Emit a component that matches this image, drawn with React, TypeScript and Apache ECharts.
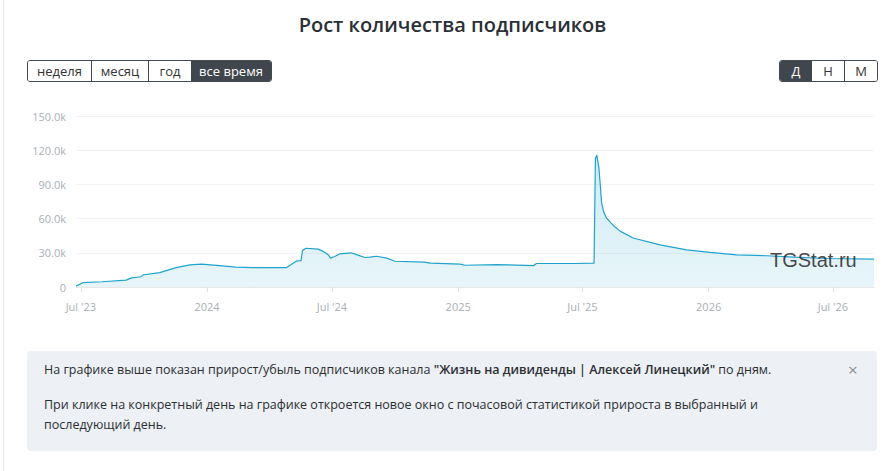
import React, { useEffect, useRef } from "react";
import * as echarts from "echarts";

const dates = [
  "2023-06-24", "2023-07-04", "2023-08-01", "2023-09-05", "2023-09-13", "2023-09-27", "2023-09-29",
  "2023-10-24", "2023-11-17", "2023-12-07", "2023-12-24", "2024-01-19", "2024-02-12", "2024-03-07",
  "2024-04-26", "2024-05-11", "2024-05-17", "2024-05-19", "2024-05-24", "2024-06-11", "2024-06-19",
  "2024-06-26", "2024-06-29", "2024-07-05", "2024-07-12", "2024-07-29", "2024-08-08", "2024-08-18",
  "2024-08-25", "2024-09-04", "2024-09-19", "2024-10-01", "2024-11-12", "2024-11-22", "2025-01-04",
  "2025-01-11", "2025-02-26", "2025-04-21", "2025-04-25", "2025-06-18", "2025-07-18", "2025-07-20",
  "2025-07-22", "2025-07-25", "2025-07-27", "2025-07-29", "2025-08-01", "2025-08-05", "2025-08-15",
  "2025-08-25", "2025-09-13", "2025-10-22", "2025-11-30", "2026-01-03", "2026-02-11", "2026-03-27",
  "2026-05-05", "2026-06-23", "2026-08-30",
];
const subscribers = [
  800, 3800, 4600, 6000, 8000, 9000, 10500,
  12600, 17000, 19400, 20000, 18800, 17400, 17000,
  17000, 23000, 23200, 32000, 34000, 33200, 31000,
  28000, 25300, 26700, 29000, 30000, 28000, 25900,
  26200, 27000, 25300, 22600, 21800, 20900, 20000,
  19100, 19700, 18800, 20600, 20600, 20900, 113000,
  115600, 105000, 90000, 74000, 66000, 60600, 54000,
  49000, 43000, 37000, 32600, 30300, 28200, 27400,
  26200, 25000, 24400,
];
const tickDates = ["2023-07-01", "2024-01-01", "2024-07-01", "2025-01-01", "2025-07-01", "2026-01-01", "2026-07-01"];
const tickLabels = ["Jul '23", "2024", "Jul '24", "2025", "Jul '25", "2026", "Jul '26"];
const rangeButtons = ["неделя", "месяц", "год", "все время"];
const periodButtons = ["Д", "Н", "М"];

const ts = (d: string) => {
  const [y, m, dd] = d.split("-").map(Number);
  return Date.UTC(y, m - 1, dd);
};

export default function App() {
  const ref = useRef<HTMLDivElement>(null);
  useEffect(() => {
    if (!ref.current) return;
    const chart = echarts.init(ref.current, null, { renderer: "svg" });
    const tickTs = tickDates.map(ts);
    chart.setOption({
      animation: false,
      grid: { left: 76, right: 11, top: 116, bottom: 184 },
      xAxis: {
        type: "value",
        min: ts(dates[0]),
        max: ts(dates[dates.length - 1]),
        axisLine: { show: true, onZero: false, lineStyle: { color: "#e6e6e6" } },
        axisTick: { show: true, customValues: tickTs, length: 5, lineStyle: { color: "#e0e0e0" } },
        axisLabel: {
          customValues: tickTs,
          color: "#a9afb6",
          fontSize: 11,
          fontFamily: "Open Sans",
          margin: 14,
          formatter: (v: number) => {
            const i = tickTs.findIndex((t) => Math.abs(t - v) < 86400000);
            return i >= 0 ? tickLabels[i] : "";
          },
        },
        splitLine: { show: false },
      },
      yAxis: {
        type: "value",
        min: 0,
        max: 150000,
        interval: 30000,
        axisLine: { show: false },
        axisTick: { show: false },
        axisLabel: {
          color: "#a9afb6",
          fontSize: 11,
          fontFamily: "Open Sans",
          margin: 10,
          formatter: (v: number) => (v === 0 ? "0" : (v / 1000).toFixed(1) + "k"),
        },
        splitLine: { lineStyle: { color: "#f3f3f3" } },
      },
      graphic: [
        {
          type: "text",
          left: 770,
          top: 250,
          style: { text: "TGStat.ru", fontSize: 20, fontFamily: "Liberation Sans", fill: "rgba(40,40,40,0.85)" },
          z: 100,
        },
      ],
      series: [
        {
          type: "line",
          data: dates.map((d, i) => [ts(d), subscribers[i]]),
          showSymbol: false,
          lineStyle: { color: "#1fa3cd", width: 1.2 },
          itemStyle: { color: "#1fa3cd" },
          areaStyle: {
            color: new echarts.graphic.LinearGradient(0, 0, 0, 1, [
              { offset: 0, color: "rgba(31,163,205,0.3)" },
              { offset: 1, color: "rgba(31,163,205,0.15)" },
            ]),
          },
        },
      ],
    });
    return () => chart.dispose();
  }, []);

  const btnBase: React.CSSProperties = {
    height: 20,
    lineHeight: "20px",
    fontSize: 13,
    fontFamily: "Open Sans",
    textAlign: "center",
    boxSizing: "border-box",
  };
  const rangeWidths = [63, 57, 43, 80];
  const periodWidths = [32, 32, 33];

  return (
    <div style={{ position: "fixed", left: 0, top: 0, width: 885, height: 471, background: "#fff", overflow: "hidden" }}>
      <div style={{ position: "absolute", left: 3, top: 0, width: 1, height: 471, background: "#e9ecef" }} />
      <div ref={ref} style={{ position: "absolute", left: 0, top: 0, width: 885, height: 471 }} />
      <div
        style={{
          position: "absolute",
          left: 0,
          width: 905,
          top: 11,
          textAlign: "center",
          fontFamily: "Open Sans",
          fontWeight: 600,
          fontSize: 20,
          color: "#2b3036",
        }}
      >
        Рост количества подписчиков
      </div>
      <div
        style={{
          position: "absolute",
          left: 27,
          top: 60,
          display: "flex",
          border: "1px solid #444a51",
          borderRadius: 3,
          overflow: "hidden",
        }}
      >
        {rangeButtons.map((b, i) => (
          <div
            key={b}
            style={{
              ...btnBase,
              width: rangeWidths[i],
              background: i === 3 ? "#40464d" : "#fff",
              color: i === 3 ? "#fff" : "#333",
              borderLeft: i > 0 && i < 3 ? "1px solid #444a51" : "none",
            }}
          >
            {b}
          </div>
        ))}
      </div>
      <div
        style={{
          position: "absolute",
          left: 779,
          top: 60,
          display: "flex",
          border: "1px solid #444a51",
          borderRadius: 3,
          overflow: "hidden",
        }}
      >
        {periodButtons.map((b, i) => (
          <div
            key={b}
            style={{
              ...btnBase,
              width: periodWidths[i],
              background: i === 0 ? "#40464d" : "#fff",
              color: i === 0 ? "#fff" : "#333",
              borderLeft: i > 1 ? "1px solid #444a51" : "none",
            }}
          >
            {b}
          </div>
        ))}
      </div>
      <div
        style={{
          position: "absolute",
          left: 27,
          top: 351,
          width: 850,
          height: 100,
          background: "#edf0f4",
          borderRadius: 4,
          fontFamily: "Open Sans",
          fontSize: 12.5,
          color: "#2b2f33",
        }}
      >
        <div style={{ position: "absolute", left: 17, top: 9, lineHeight: "20px", whiteSpace: "nowrap" }}>
          На графике выше показан прирост/убыль подписчиков канала{" "}
          <span style={{ fontWeight: 600 }}>"Жизнь на дивиденды | Алексей Линецкий"</span> по дням.
        </div>
        <div style={{ position: "absolute", left: 17, top: 44, width: 720, lineHeight: "20px" }}>
          При клике на конкретный день на графике откроется новое окно с почасовой статистикой прироста в выбранный и
          последующий день.
        </div>
        <div style={{ position: "absolute", left: 821, top: 9, lineHeight: "20px", fontSize: 17, color: "#8a8f96" }}>×</div>
      </div>
    </div>
  );
}
